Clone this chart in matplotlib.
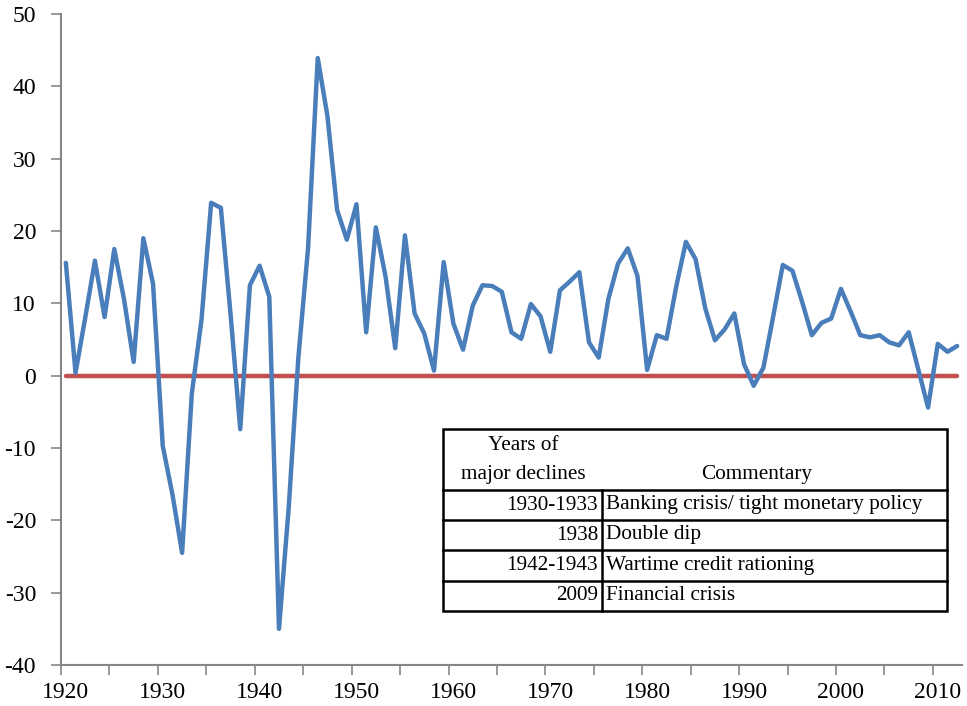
import matplotlib
matplotlib.use("Agg")
import matplotlib.pyplot as plt

# annual values
years = list(range(1920, 2013))
values = [
    15.6, 0.4, 8.0, 15.9, 8.1, 17.5, 10.6, 1.9, 19.0, 12.7,    # 1920s
    -9.7, -16.4, -24.5, -2.5, 7.7, 23.9, 23.2, 8.5, -7.4, 12.5,  # 1930s
    15.2, 10.9, -35.0, -18.3, 2.5, 17.6, 43.9, 35.9, 22.9, 18.8,  # 1940s
    23.7, 6.0, 20.5, 13.7, 3.8, 19.4, 8.6, 5.8, 0.7, 15.7,      # 1950s
    7.2, 3.6, 9.7, 12.5, 12.4, 11.6, 6.0, 5.1, 9.9, 8.2,        # 1960s
    3.3, 11.8, 13.0, 14.3, 4.6, 2.5, 10.6, 15.5, 17.6, 13.8,    # 1970s
    0.8, 5.6, 5.1, 12.3, 18.5, 16.1, 9.3, 4.9, 6.4, 8.6,        # 1980s
    1.6, -1.4, 1.1, 8.1, 15.3, 14.5, 10.2, 5.6, 7.3, 7.9,       # 1990s
    12.0, 8.9, 5.6, 5.3, 5.6, 4.6, 4.2, 6.0, 0.8, -4.4,         # 2000s
    4.4, 3.3, 4.1,                                              # 2010s
]
label_years = list(range(1920, 2011, 10))

table_years = ["1930-1933", "1938", "1942-1943", "2009"]
table_notes = ["Banking crisis/ tight monetary policy", "Double dip",
               "Wartime credit rationing", "Financial crisis"]

plt.rcParams['font.family'] = ['Liberation Serif', 'DejaVu Serif']
plt.rcParams['axes.unicode_minus'] = False

W, H = 967, 706
fig = plt.figure(figsize=(W / 100, H / 100), dpi=100)
ax = fig.add_axes([61 / W, (H - 665) / H, (962 - 61) / W, (665 - 14) / H])

ax.plot(years, values, color='#4a7ebb', linewidth=3.2, solid_joinstyle='round',
        solid_capstyle='round', zorder=3)
ax.plot([years[0], years[-1]], [0, 0], color='#c0504d', linewidth=3.2,
        solid_capstyle='round', zorder=2)

# category-style axis: ticks between years, labels centred on the year
ax.set_xlim(years[0] - 0.5, years[-1] + 0.5)
ax.set_ylim(-40, 50)
ax.set_yticks(range(-40, 51, 10))
ax.set_xticks(label_years)
ax.set_xticks([y - 0.5 for y in range(1920, 2013, 5)], minor=True)

for s in ['top', 'right']:
    ax.spines[s].set_visible(False)
for s in ['left', 'bottom']:
    ax.spines[s].set_color('#868686')
    ax.spines[s].set_linewidth(1.5)

ax.tick_params(axis='y', direction='out', length=7, width=1.2,
               color='#868686', labelsize=17, pad=11)
ax.tick_params(axis='x', which='major', length=0, labelsize=17, pad=12.5)
ax.tick_params(axis='x', which='minor', direction='out', length=7, width=1.2,
               color='#868686')

# table of major declines, drawn in pixel units
tx0, ty0, tx1, ty1 = 443, 429, 947, 611
tab = fig.add_axes([tx0 / W, (H - ty1) / H, (tx1 - tx0) / W, (ty1 - ty0) / H])
tw, th = tx1 - tx0, ty1 - ty0
tab.set_xlim(0, tw)
tab.set_ylim(th, 0)
tab.axis('off')
tab.add_patch(plt.Rectangle((0, 0), tw, th, fill=True, facecolor='white',
                            edgecolor='black', linewidth=1.8, clip_on=False))
row_lines = [61, 91, 121, 152]
for y in row_lines:
    tab.plot([0, tw], [y, y], color='black', linewidth=1.8, clip_on=False)
tab.plot([159, 159], [row_lines[0], th], color='black', linewidth=1.8,
         clip_on=False)

fs = 15.3
tab.text(80, 17, "Years of", ha='center', va='center', fontsize=fs)
tab.text(80, 46, "major declines", ha='center', va='center', fontsize=fs)
tab.text(314, 46, "Commentary", ha='center', va='center', fontsize=fs)
bounds = row_lines + [th]
for i, (yr, note) in enumerate(zip(table_years, table_notes)):
    yc = (bounds[i] + bounds[i + 1]) / 2
    tab.text(155, yc, yr, ha='right', va='center', fontsize=fs)
    tab.text(163, yc, note, ha='left', va='center', fontsize=fs)

fig.savefig('out.png', dpi=100)
